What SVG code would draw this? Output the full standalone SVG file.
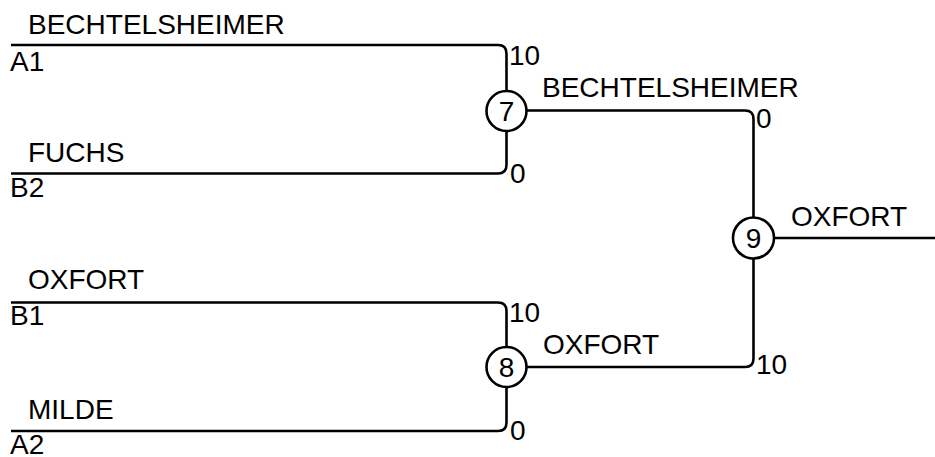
<svg xmlns="http://www.w3.org/2000/svg" width="935" height="457" viewBox="0 0 935 457">
<style>
.c{fill:none;stroke:#000;stroke-width:2.6}
.n{fill:#fff;stroke:#000;stroke-width:2.6}
text{font-family:"Liberation Sans",Arial,sans-serif;font-size:28px;fill:#000}
.m{text-anchor:middle}
</style>
<rect width="935" height="457" fill="#fff"/>
<g id="connectors">
<path class="c" d="M11,45 H498 Q506.5,45 506.5,53.5 V91"/>
<path class="c" d="M11,173.5 H498 Q506.5,173.5 506.5,165 V131"/>
<path class="c" d="M11,302.5 H498 Q506.5,302.5 506.5,311 V346.5"/>
<path class="c" d="M11,431 H498 Q506.5,431 506.5,422.5 V387.5"/>
<path class="c" d="M527,110.5 H745 Q753.5,110.5 753.5,119 V217"/>
<path class="c" d="M527,367 H745 Q753.5,367 753.5,358.5 V259"/>
<path class="c" d="M774,238 H935"/>
</g>
<g id="entries">
<text x="28" y="34">BECHTELSHEIMER</text>
<text x="10" y="71">A1</text>
<text x="28" y="162">FUCHS</text>
<text x="10" y="197">B2</text>
<text x="28" y="289">OXFORT</text>
<text x="10" y="325">B1</text>
<text x="28" y="419">MILDE</text>
<text x="10" y="454">A2</text>
</g>
<g id="node7">
<circle class="n" cx="506.5" cy="111" r="20"/>
<text class="m" x="506.5" y="121">7</text>
<text x="509" y="65">10</text>
<text x="510" y="183">0</text>
<text x="542" y="97">BECHTELSHEIMER</text>
</g>
<g id="node8">
<circle class="n" cx="506.5" cy="367" r="20"/>
<text class="m" x="506.5" y="377">8</text>
<text x="509" y="322">10</text>
<text x="510" y="440">0</text>
<text x="543" y="354">OXFORT</text>
</g>
<g id="node9">
<circle class="n" cx="753.5" cy="238" r="20.5"/>
<text class="m" x="753.5" y="248">9</text>
<text x="756" y="128">0</text>
<text x="756" y="374">10</text>
<text x="791" y="226">OXFORT</text>
</g>
</svg>
